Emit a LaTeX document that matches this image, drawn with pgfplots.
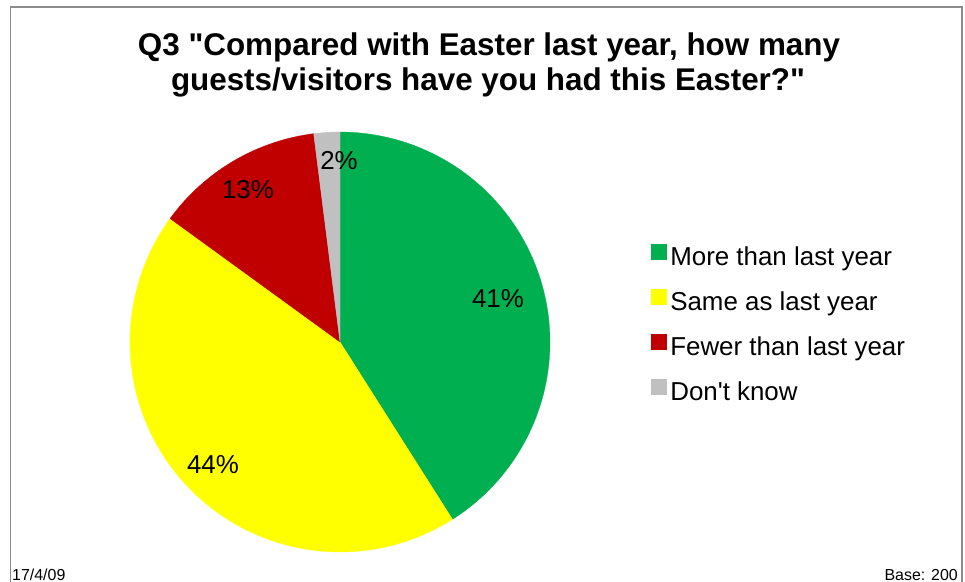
\documentclass[border=0pt]{standalone}
\usepackage{pgfplots}
\pgfplotsset{compat=1.18}
\usepackage{fontspec}
\setmainfont{Liberation Sans}[Ligatures=TeXOff]
\definecolor{cgreen}{HTML}{00B050}
\definecolor{cyellow}{HTML}{FFFF00}
\definecolor{cred}{HTML}{C00000}
\definecolor{cgray}{HTML}{C0C0C0}
\definecolor{cframe}{HTML}{8C8C8C}
\begin{document}
\begin{tikzpicture}
% shares in percent
\def\vMore{41}\def\vSame{44}\def\vFewer{13}\def\vDK{2}
\pgfmathsetmacro\aA{90}
\pgfmathsetmacro\aB{\aA-3.6*\vMore}
\pgfmathsetmacro\aC{\aB-3.6*\vSame}
\pgfmathsetmacro\aD{\aC-3.6*\vFewer}
\pgfmathsetmacro\aE{\aD-3.6*\vDK}
\begin{axis}[
  width=965bp, height=582bp, scale only axis,
  xmin=0, xmax=965, ymin=0, ymax=582, y dir=reverse,
  hide axis, clip=false,
  legend cell align=left,
  legend image code/.code={\fill[#1] (0bp,-1bp) rectangle (15bp,14bp);},
  legend style={at={(axis cs:651,244)}, anchor=north west, draw=none, fill=none,
    inner sep=0pt, outer sep=0pt, font=\fontsize{26}{30}\selectfont,
    row sep=19bp, column sep=4bp,
    nodes={inner sep=0pt, text height=19bp, text depth=5bp}},
]
\addplot[fill=cgreen, draw=cgreen, line width=0.3bp, domain=\aB:\aA, samples=90, variable=\t]
  ({340+210*cos(\t)},{342-210*sin(\t)}) -- (axis cs:340,342) -- cycle;
\addlegendentry{More than last year}
\addplot[fill=cyellow, draw=cyellow, line width=0.3bp, domain=\aC:\aB, samples=90, variable=\t]
  ({340+210*cos(\t)},{342-210*sin(\t)}) -- (axis cs:340,342) -- cycle;
\addlegendentry{Same as last year}
\addplot[fill=cred, draw=cred, line width=0.3bp, domain=\aD:\aC, samples=40, variable=\t]
  ({340+210*cos(\t)},{342-210*sin(\t)}) -- (axis cs:340,342) -- cycle;
\addlegendentry{Fewer than last year}
\addplot[fill=cgray, draw=cgray, line width=0.3bp, domain=\aE:\aD, samples=10, variable=\t]
  ({340+210*cos(\t)},{342-210*sin(\t)}) -- (axis cs:340,342) -- cycle;
\addlegendentry{Don't know}

\node[font=\fontsize{26}{30}\selectfont, inner sep=0pt] at (axis cs:498,299) {41\%};
\node[font=\fontsize{26}{30}\selectfont, inner sep=0pt] at (axis cs:213,465) {44\%};
\node[font=\fontsize{26}{30}\selectfont, inner sep=0pt] at (axis cs:248,190) {13\%};
\node[font=\fontsize{26}{30}\selectfont, inner sep=0pt] at (axis cs:339,161) {2\%};

\node[anchor=base, inner sep=0pt, font=\fontsize{31.5}{36}\bfseries\selectfont] at (axis cs:489,56) {Q3 "Compared with Easter last year, how many};
\node[anchor=base, inner sep=0pt, font=\fontsize{31.5}{36}\bfseries\selectfont] at (axis cs:488,91) {guests/visitors have you had this Easter?"};

\node[anchor=base west, inner sep=0pt, font=\fontsize{16}{19}\selectfont] at (axis cs:12,580) {17/4/09};
\node[anchor=base east, inner sep=0pt, font=\fontsize{16}{19}\selectfont] at (axis cs:958,580) {Base: 200};

\draw[cframe, line width=1.5bp] (axis cs:10.5,582) -- (axis cs:10.5,7) -- (axis cs:962,7) -- (axis cs:962,582);
\end{axis}
\pgfresetboundingbox
\path[use as bounding box] (current axis.south west) rectangle (current axis.north east);
\end{tikzpicture}
\end{document}
